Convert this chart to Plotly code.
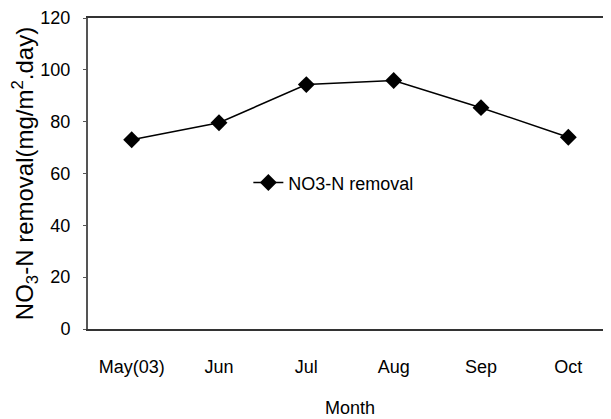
import plotly.graph_objects as go

months = ["May(03)", "Jun", "Jul", "Aug", "Sep", "Oct"]
no3_removal = [73.0, 79.6, 94.3, 95.9, 85.4, 74.0]
y_ticks = [0, 20, 40, 60, 80, 100, 120]

FONT = "Liberation Sans, Arial, sans-serif"

fig = go.Figure()
fig.add_trace(go.Scatter(
    x=months, y=no3_removal, mode="lines+markers", name="NO3-N removal",
    line=dict(color="black", width=1.5),
    marker=dict(symbol="diamond", size=13, color="black"),
))

fig.update_layout(
    width=611, height=419,
    margin=dict(l=80, r=7, t=10, b=98),
    paper_bgcolor="white", plot_bgcolor="white",
    showlegend=True,
    legend=dict(x=0.306, y=0.47, xanchor="left", yanchor="middle",
                bgcolor="rgba(0,0,0,0)", font=dict(family=FONT, size=18, color="black"),
                itemwidth=30),
    xaxis=dict(
        type="category", range=[-0.5, 5.5], automargin=False,
        showline=True, linecolor="#333", linewidth=2, mirror=True,
        showgrid=False, ticks="", ticklabelstandoff=20,
        tickfont=dict(family=FONT, size=18, color="black"),
        title=dict(text="Month", font=dict(family=FONT, size=18, color="black"), standoff=26),
    ),
    yaxis=dict(
        range=[0, 120], tickvals=y_ticks, ticktext=[str(v) for v in y_ticks],
        automargin=False,
        showline=True, linecolor="#555", linewidth=2,
        showgrid=False, zeroline=False, ticks="outside", ticklen=3, tickcolor="#555",
        ticklabelstandoff=9,
        tickfont=dict(family=FONT, size=18, color="black"),
        title=dict(text="NO<sub>3</sub>-N removal(mg/m<sup>2</sup>.day)",
                   font=dict(family=FONT, size=24, color="black"), standoff=2),
    ),
)

fig.write_html("out.html")
